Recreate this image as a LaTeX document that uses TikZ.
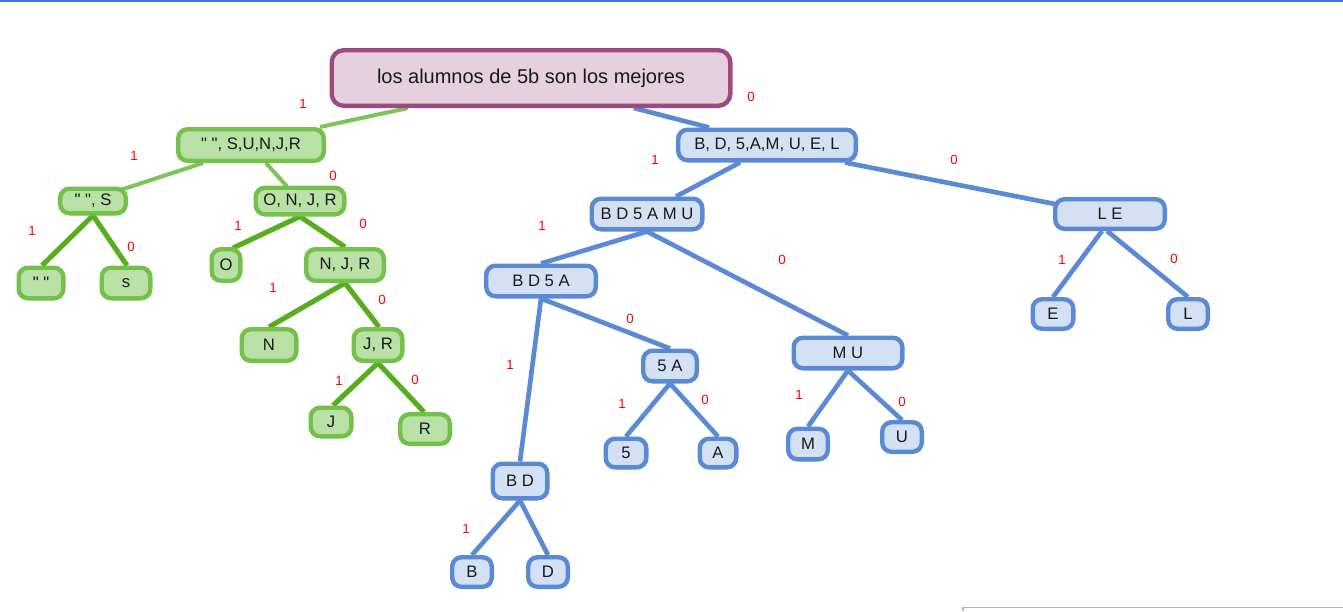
\documentclass[tikz,border=0pt]{standalone}
\usepackage{fontspec}
\newfontfamily\nf{Liberation Sans}
\usetikzlibrary{calc,backgrounds}
\definecolor{gfill}{HTML}{B9E0A5}
\definecolor{gbord}{HTML}{73C04B}
\definecolor{gthin}{HTML}{7DC35A}
\definecolor{gthick}{HTML}{56AE1E}
\definecolor{bfill}{HTML}{D4E1F5}
\definecolor{bbord}{HTML}{5A8AD6}
\definecolor{rfill}{HTML}{E6D0DE}
\definecolor{rbord}{HTML}{9E4A80}
\definecolor{topblue}{HTML}{3C78D8}
\definecolor{boxgray}{HTML}{B4B4B4}
\tikzset{
  x=0.75pt, y=-0.75pt,
  sz/.style 2 args={minimum width=#1*0.75pt-3.3pt, minimum height=#2*0.75pt-3.3pt},
  base/.style={draw, line width=3.3pt, rounded corners=7pt, inner sep=0pt, font=\nf\fontsize{12.5}{14}\selectfont, text=black!90},
  gnode/.style={base, fill=gfill, draw=gbord},
  bnode/.style={base, fill=bfill, draw=bbord},
  rnode/.style={base, fill=rfill, draw=rbord, line width=3.3pt, rounded corners=9pt, font=\nf\fontsize{15}{18}\selectfont},
  gedge/.style={draw=gthin, line width=3pt},
  gedgeT/.style={draw=gthick, line width=3.8pt},
  bedge/.style={draw=bbord, line width=3.5pt},
  lbl/.style={text=red, font=\nf\fontsize{10}{11}\selectfont, inner sep=0pt},
}
\begin{document}
\begin{tikzpicture}
\useasboundingbox (0,0) rectangle (1343,611);
\draw[topblue, line width=1.5pt] (0,1) -- (1343,1);
\draw[boxgray, line width=0.8pt] (963,611) -- (963,607.5) -- (1343,607.5);

% root
\node[rnode, sz={403}{60}] (root) at (531,78) {los alumnos de 5b son los mejores};
% green subtree
\node[gnode, sz={150}{36}] (G1) at (251,145) {" ", S,U,N,J,R};
\node[gnode, sz={70}{29}] (G2) at (93,201) {" ", S};
\node[gnode, sz={49}{35}] (G3) at (41,283) {" "};
\node[gnode, sz={53}{35}] (G4) at (126,283) {s};
\node[gnode, sz={93}{31}] (G5) at (300,201) {O, N, J, R};
\node[gnode, sz={33}{36}] (G6) at (226,265) {O};
\node[gnode, sz={82}{36}] (G7) at (345,265) {N, J, R};
\node[gnode, sz={59}{36}] (G8) at (269,345) {N};
\node[gnode, sz={53}{36}] (G9) at (378,345) {J, R};
\node[gnode, sz={45}{33}] (G10) at (331,422) {J};
\node[gnode, sz={54}{34}] (G11) at (425,429) {R};
% blue subtree
\node[bnode, sz={182}{35}] (B1) at (767,145) {B, D, 5,A,M, U, E, L};
\node[bnode, sz={115}{35}] (B2) at (647,214) {B D 5 A M U};
\node[bnode, sz={114}{35}] (B3) at (541,281) {B D 5 A};
\node[bnode, sz={58}{35}] (B4) at (670,366) {5 A};
\node[bnode, sz={45}{33}] (B5) at (626,453) {5};
\node[bnode, sz={41}{33}] (B6) at (718,453) {A};
\node[bnode, sz={59}{39}] (B7) at (520,481) {B D};
\node[bnode, sz={44}{34}] (B8) at (472,572) {B};
\node[bnode, sz={44}{34}] (B9) at (548,572) {D};
\node[bnode, sz={113}{35}] (B10) at (848,353) {M U};
\node[bnode, sz={44}{35}] (B11) at (808,444) {M};
\node[bnode, sz={44}{34}] (B12) at (902,437) {U};
\node[bnode, sz={114}{34}] (B13) at (1110,214) {L E};
\node[bnode, sz={45}{34}] (B14) at (1053,314) {E};
\node[bnode, sz={44}{34}] (B15) at (1188,314) {L};

\begin{scope}[on background layer]
\draw[gedge] ($(root.south)+(-123,0)$) -- ($(G1.north)+(69,0)$);
\draw[bedge] ($(root.south)+(103,0)$) -- ($(B1.north)+(-58,0)$);
\draw[gedge] ($(G1.south)+(-48,0)$) -- ($(G2.north)+(29,3)$);
\draw[gedge] ($(G1.south)+(15,0)$) -- ($(G5.north)+(-13,1)$);
\draw[gedgeT] (G2.south) -- ($(G3.north)+(1,0)$);
\draw[gedgeT] (G2.south) -- ($(G4.north)+(1,0)$);
\draw[gedgeT] (G5.south) -- ($(G6.north)+(7,1)$);
\draw[gedgeT] (G5.south) -- (G7.north);
\draw[gedgeT] (G7.south) -- (G8.north);
\draw[gedgeT] (G7.south) -- ($(G9.north)+(1,0)$);
\draw[gedgeT] (G9.south) -- ($(G10.north)+(2,0)$);
\draw[gedgeT] (G9.south) -- ($(G11.north)+(-1,0)$);
\draw[bedge] ($(B1.south)+(-27,0)$) -- ($(B2.north)+(29,0)$);
\draw[bedge] ($(B1.south)+(78,0)$) -- ($(B13.west)+(2,-10)$);
\draw[bedge] (B2.south) -- (B3.north);
\draw[bedge] (B2.south) -- (B10.north);
\draw[bedge] (B3.south) -- (B7.north);
\draw[bedge] (B3.south) -- (B4.north);
\draw[bedge] (B4.south) -- (B5.north);
\draw[bedge] (B4.south) -- (B6.north);
\draw[bedge] (B7.south) -- (B8.north);
\draw[bedge] (B7.south) -- (B9.north);
\draw[bedge] (B10.south) -- (B11.north);
\draw[bedge] (B10.south) -- (B12.north);
\draw[bedge] ($(B13.south)+(-8,0)$) -- (B14.north);
\draw[bedge] ($(B13.south)+(-3,0)$) -- (B15.north);
\end{scope}

% labels
\node[lbl] (l1) at (303,104) {1};
\node[lbl] (l2) at (751,97) {0};
\node[lbl] (l3) at (134,156) {1};
\node[lbl] (l4) at (333,176) {0};
\node[lbl] (l5) at (32,231) {1};
\node[lbl] (l6) at (131,247) {0};
\node[lbl] (l7) at (238,226) {1};
\node[lbl] (l8) at (363,224) {0};
\node[lbl] (l9) at (273,288) {1};
\node[lbl] (l10) at (382,300) {0};
\node[lbl] (l11) at (339,381) {1};
\node[lbl] (l12) at (415,380) {0};
\node[lbl] (l13) at (655,160) {1};
\node[lbl] (l14) at (954,160) {0};
\node[lbl] (l15) at (542,226) {1};
\node[lbl] (l16) at (782,260) {0};
\node[lbl] (l17) at (510,365) {1};
\node[lbl] (l18) at (630,319) {0};
\node[lbl] (l19) at (622,404) {1};
\node[lbl] (l20) at (705,400) {0};
\node[lbl] (l21) at (466,529) {1};
\node[lbl] (l22) at (799,395) {1};
\node[lbl] (l23) at (902,402) {0};
\node[lbl] (l24) at (1062,260) {1};
\node[lbl] (l25) at (1174,259) {0};
\end{tikzpicture}
\end{document}
